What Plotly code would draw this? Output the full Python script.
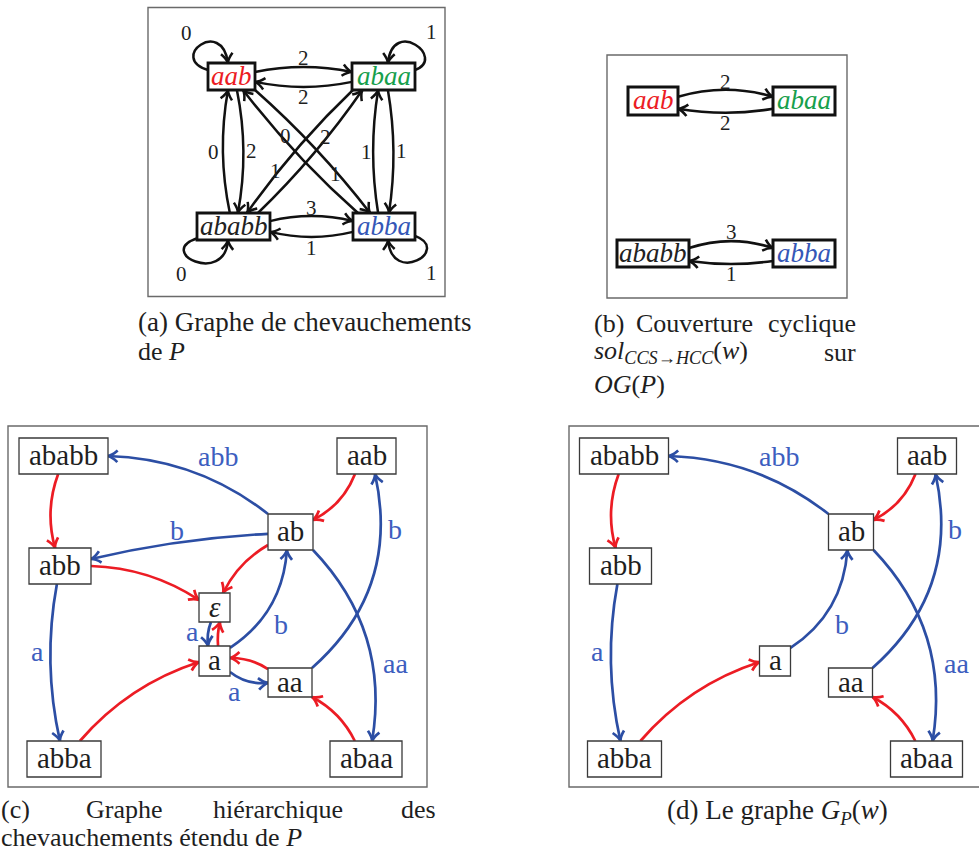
import math
import plotly.graph_objects as go

# ------------------------------------------------------------------ data
# (a) overlap graph OG(P): nodes and weighted arcs (weight = overlap label)
og_words = ["aab", "abaa", "ababb", "abba"]
og_arcs = [("aab", "abaa", "2"), ("abaa", "aab", "2"),
           ("ababb", "abba", "3"), ("abba", "ababb", "1"),
           ("ababb", "aab", "0"), ("aab", "ababb", "2"),
           ("abba", "abaa", "1"), ("abaa", "abba", "1"),
           ("abba", "aab", "0"), ("aab", "abba", "1"),
           ("abaa", "ababb", "1"), ("ababb", "abaa", "2")]
og_loops = [("aab", "0"), ("abaa", "1"), ("ababb", "0"), ("abba", "1")]
# (b) cyclic cover sol_{CCS->HCC}(w)
cover_arcs = [("aab", "abaa", "2"), ("abaa", "aab", "2"),
              ("ababb", "abba", "3"), ("abba", "ababb", "1")]
# (c) extended hierarchical overlap graph: (src, dst, label, kind)
hog_nodes = ["ababb", "aab", "ab", "abb", "ε", "a", "aa", "abba", "abaa"]
hog_arcs = [("ab", "ababb", "abb", "ext"), ("ababb", "abb", "", "link"),
            ("aab", "ab", "", "link"), ("ab", "abb", "b", "ext"),
            ("ab", "ε", "", "link"), ("abb", "ε", "", "link"),
            ("ε", "a", "a", "ext"), ("a", "ε", "", "link"),
            ("a", "ab", "b", "ext"), ("aa", "a", "", "link"),
            ("a", "aa", "a", "ext"), ("aa", "aab", "b", "ext"),
            ("ab", "abaa", "aa", "ext"), ("abb", "abba", "a", "ext"),
            ("abba", "a", "", "link"), ("abaa", "aa", "", "link")]
# (d) graph G_P(w)
gp_nodes = ["ababb", "aab", "ab", "abb", "a", "aa", "abba", "abaa"]
gp_arcs = [("ab", "ababb", "abb", "ext"), ("ababb", "abb", "", "link"),
           ("aab", "ab", "", "link"), ("a", "ab", "b", "ext"),
           ("aa", "aab", "b", "ext"), ("ab", "abaa", "aa", "ext"),
           ("abb", "abba", "a", "ext"), ("abba", "a", "", "link"),
           ("abaa", "aa", "", "link")]

# ------------------------------------------------------------------ layout / style
FONT = "Liberation Serif"
RED = "#ec1c24"
BLUE = "#2c4ea4"
LBLUE = "#3d5ebf"
INK = "#1e1e1e"
WORD_COLOR = {"aab": "#ec1c24", "abaa": "#17a04c", "ababb": "#222222", "abba": "#3557b7"}

# boxes: cx, cy, w, h  (page pixels)
BOX_A = {"aab": (231.5, 76.5, 47, 27), "abaa": (383.5, 76.5, 63, 27),
         "ababb": (233.5, 226.5, 73, 27), "abba": (384, 226.5, 62, 27)}
BOX_B = {"aab": (653, 101, 50, 28), "abaa": (804, 101, 62, 28),
         "ababb": (653, 253.5, 72, 27), "abba": (804, 253.5, 62, 27)}
BOX_C = {"ababb": (63.5, 456, 89, 36), "aab": (366.5, 456, 59, 36),
         "ab": (290.5, 532, 45, 36), "abb": (60, 566, 62, 36),
         "ε": (214.5, 607.5, 31, 29), "a": (214.5, 661, 31, 30),
         "aa": (290, 682.5, 44, 29), "abba": (64, 759, 74, 36),
         "abaa": (366, 759, 72, 36)}
DX_D = 560.5

# arc geometry: start anchor, end anchor (box fractions), bend, label t, label offset
GEO_A = {("aab", "abaa"): ((1, -0.33), (-1, -0.33), 10, 0.5, 9),
         ("abaa", "aab"): ((-1, 0.4), (1, 0.4), 10, 0.5, 10),
         ("ababb", "abba"): ((1, -0.4), (-1, -0.4), 10, 0.5, 8),
         ("abba", "ababb"): ((-1, 0.4), (1, 0.4), 10, 0.5, 11),
         ("ababb", "aab"): ((-0.1, -1), (-0.15, 1), 12, 0.5, 9),
         ("aab", "ababb"): ((0.23, 1), (0.12, -1), 12, 0.5, 8),
         ("abba", "abaa"): ((-0.19, -1), (-0.17, 1), 10, 0.5, 7),
         ("abaa", "abba"): ((0.14, 1), (0.16, -1), 10, 0.5, 8),
         ("aab", "abba"): ((1, 1), (-0.45, -1), 8, 0.69, -2),
         ("abba", "aab"): ((-0.84, -1), (0.49, 1), 8, 0.63, -3),
         ("abaa", "ababb"): ((-0.97, 1), (0.37, -1), -8, 0.69, -2),
         ("ababb", "abaa"): ((0.67, -1), (-0.67, 1), -8, 0.63, 2)}
LOOP_A = {"aab": ((-1, -0.48), (-0.15, -1), (-40, -12), (-6, -46), (-14, -12)),
          "abaa": ((1, -0.48), (0.14, -1), (32, -12), (5, -46), (16, -13)),
          "ababb": ((-0.97, 0.85), (-0.15, 1), (-44, 14), (-3, 46), (-14, 13)),
          "abba": ((1, 0.7), (0.13, 1), (37, 14), (4, 46), (15, 13))}
GEO_B = {("aab", "abaa"): ((1, -0.3), (-1, -0.3), 14, 0.5, 8),
         ("abaa", "aab"): ((-1, 0.55), (1, 0.55), 8, 0.5, 10),
         ("ababb", "abba"): ((1, -0.4), (-1, -0.4), 14, 0.5, 9),
         ("abba", "ababb"): ((-1, 0.55), (1, 0.55), 6, 0.5, 10)}
GEO_C = {("ab", "ababb"): ((-1, -1), (1, 0), -28, 0.4, -24),
         ("ababb", "abb"): ((-0.12, 1), (-0.16, -1), -12, 0.5, 0),
         ("aab", "ab"): ((-0.39, 1), (1, -0.67), 12, 0.5, 0),
         ("ab", "abb"): ((-1, 0.1), (1, -0.39), -8, 0.5, -12),
         ("ab", "ε"): ((-1, 0.72), (0.55, -1), -10, 0.5, 0),
         ("abb", "ε"): ((1, 0), (-1, -0.52), 16, 0.5, 0),
         ("ε", "a"): ((-0.23, 1), (-0.42, -1), -3, 0.5, -16),
         ("a", "ε"): ((0.23, -1), (0.35, 1), 2, 0.5, 0),
         ("a", "ab"): ((1, -0.87), (-0.16, 1), -28, 0.42, -19),
         ("aa", "a"): ((-1, -0.93), (1, -0.2), -6, 0.5, 0),
         ("a", "aa"): ((1, 0.73), (-1, 0.03), -8, 0.3, -14),
         ("aa", "aab"): ((1, -1), (0.29, 1), -60, 0.75, -14),
         ("ab", "abaa"): ((1, 1), (0.17, -1), 50, 0.65, 23),
         ("abb", "abba"): ((-0.1, 1), (-0.11, -1), -16, 0.43, -13),
         ("abba", "a"): ((0.43, -1), (-1, 0.07), 20, 0.5, 0),
         ("abaa", "aa"): ((-0.31, -1), (1, 1), -10, 0.5, 0)}

shapes, annots = [], []


def P(x, y):
    return f"{x:.2f},{y:.2f}"


def anchor(box, f, dx=0.0):
    cx, cy, w, h = box
    return (cx + dx + f[0] * w / 2, cy + f[1] * h / 2)


def arrowhead(tip, u, color, lw, L=9.5, Wd=5.8):
    ux, uy = u
    n = math.hypot(ux, uy)
    ux, uy = ux / n, uy / n
    vx, vy = -uy, ux
    b1 = (tip[0] - L * ux + Wd * vx, tip[1] - L * uy + Wd * vy)
    b2 = (tip[0] - L * ux - Wd * vx, tip[1] - L * uy - Wd * vy)
    c1 = (tip[0] - 0.45 * L * ux + 0.15 * Wd * vx, tip[1] - 0.45 * L * uy + 0.15 * Wd * vy)
    c2 = (tip[0] - 0.45 * L * ux - 0.15 * Wd * vx, tip[1] - 0.45 * L * uy - 0.15 * Wd * vy)
    path = f"M{P(*b1)} Q{P(*c1)} {P(*tip)} Q{P(*c2)} {P(*b2)}"
    shapes.append(dict(type="path", path=path, xref="x", yref="y",
                       line=dict(color=color, width=lw)))


def quad_arc(p0, p1, bend, color, lw, label="", lt=0.5, ld=0.0, lfont=None):
    dx, dy = p1[0] - p0[0], p1[1] - p0[1]
    ln = math.hypot(dx, dy)
    nx, ny = dy / ln, -dx / ln
    c = ((p0[0] + p1[0]) / 2 + bend * nx, (p0[1] + p1[1]) / 2 + bend * ny)
    shapes.append(dict(type="path", path=f"M{P(*p0)} Q{P(*c)} {P(*p1)}",
                       xref="x", yref="y", line=dict(color=color, width=lw)))
    arrowhead(p1, (p1[0] - c[0], p1[1] - c[1]), color, lw)
    if label:
        t = lt
        bx = (1 - t) ** 2 * p0[0] + 2 * (1 - t) * t * c[0] + t * t * p1[0]
        by = (1 - t) ** 2 * p0[1] + 2 * (1 - t) * t * c[1] + t * t * p1[1]
        tx = 2 * (1 - t) * (c[0] - p0[0]) + 2 * t * (p1[0] - c[0])
        ty = 2 * (1 - t) * (c[1] - p0[1]) + 2 * t * (p1[1] - c[1])
        tn = math.hypot(tx, ty)
        lx, ly = bx + ld * ty / tn, by - ld * tx / tn
        annots.append(dict(x=lx, y=ly, text=label, showarrow=False, xref="x", yref="y",
                           font=lfont, xanchor="center", yanchor="middle", borderpad=0))


def loop(box, geo, label, color, lw, lfont):
    s, e, o1, o2, lo = geo
    p0 = anchor(box, s)
    p3 = anchor(box, e)
    c1 = (p0[0] + o1[0], p0[1] + o1[1])
    c2 = (p3[0] + o2[0], p3[1] + o2[1])
    shapes.append(dict(type="path", path=f"M{P(*p0)} C{P(*c1)} {P(*c2)} {P(*p3)}",
                       xref="x", yref="y", line=dict(color=color, width=lw)))
    arrowhead(p3, (p3[0] - c2[0], p3[1] - c2[1]), color, lw)
    mx = 0.125 * p0[0] + 0.375 * c1[0] + 0.375 * c2[0] + 0.125 * p3[0]
    my = 0.125 * p0[1] + 0.375 * c1[1] + 0.375 * c2[1] + 0.125 * p3[1]
    annots.append(dict(x=mx + lo[0], y=my + lo[1], text=label, showarrow=False,
                       xref="x", yref="y", font=lfont, borderpad=0))


def node_box(box, text, lw, lcolor, font, dx=0.0, yshift=0):
    cx, cy, w, h = box
    cx += dx
    shapes.append(dict(type="rect", x0=cx - w / 2, x1=cx + w / 2, y0=cy - h / 2, y1=cy + h / 2,
                       xref="x", yref="y", fillcolor="white", line=dict(color=lcolor, width=lw)))
    annots.append(dict(x=cx, y=cy, text=text, showarrow=False, xref="x", yref="y",
                       font=font, xanchor="center", yanchor="middle", yshift=yshift,
                       borderpad=0))


def frame(x0, y0, x1, y1):
    shapes.append(dict(type="rect", x0=x0, y0=y0, x1=x1, y1=y1, xref="x", yref="y",
                       line=dict(color="#6a6a6a", width=1.4), fillcolor="rgba(0,0,0,0)"))


num_font = dict(family=FONT, size=21, color=INK)
edge_font = dict(family=FONT, size=28, color=LBLUE)
hnode_font = dict(family=FONT, size=29, color=INK)

# ---------------- panel (a)
frame(148, 7.5, 445, 296.5)
for s, d, w in og_arcs:
    g = GEO_A[(s, d)]
    quad_arc(anchor(BOX_A[s], g[0]), anchor(BOX_A[d], g[1]), g[2], "#111111", 2.5,
             label=w, lt=g[3], ld=g[4], lfont=num_font)
for nd, w in og_loops:
    loop(BOX_A[nd], LOOP_A[nd], w, "#111111", 2.5, num_font)
for wd in og_words:
    node_box(BOX_A[wd], f"<i>{wd}</i>", 2.8, "#111111",
             dict(family=FONT, size=27, color=WORD_COLOR[wd]), yshift=1)

# ---------------- panel (b)
frame(607, 55, 847, 298)
for s, d, w in cover_arcs:
    g = GEO_B[(s, d)]
    quad_arc(anchor(BOX_B[s], g[0]), anchor(BOX_B[d], g[1]), g[2], "#111111", 2.6,
             label=w, lt=g[3], ld=g[4], lfont=num_font)
for wd in og_words:
    node_box(BOX_B[wd], f"<i>{wd}</i>", 3.0, "#111111",
             dict(family=FONT, size=27, color=WORD_COLOR[wd]), yshift=1)


# ---------------- panels (c) and (d)
def hier_panel(nodes, arcs, dx):
    for s, d, lab, kind in arcs:
        g = GEO_C[(s, d)]
        col = BLUE if kind == "ext" else RED
        quad_arc(anchor(BOX_C[s], g[0], dx), anchor(BOX_C[d], g[1], dx), g[2], col, 2.7,
                 label=lab, lt=g[3], ld=g[4], lfont=edge_font)
    for nd in nodes:
        txt = "<i>ε</i>" if nd == "ε" else nd
        node_box(BOX_C[nd], txt, 1.3, "#3a3a3a", hnode_font, dx=dx, yshift=1)


frame(8, 426, 427, 787)
hier_panel(hog_nodes, hog_arcs, 0.0)
frame(569, 426, 988, 787)
hier_panel(gp_nodes, gp_arcs, DX_D)


# ---------------- captions
def text(x, y, s, xa="left", size=26):
    annots.append(dict(x=x, y=y, text=s, showarrow=False, xref="x", yref="y",
                       font=dict(family=FONT, size=size, color=INK),
                       xanchor=xa, yanchor="middle", borderpad=0))


text(137, 322, "(a) Graphe de chevauchements", size=27)
text(137, 351, "de <i>P</i>")
text(593, 323, "(b)")
text(694, 323, "Couverture", "center")
text(857, 323, "cyclique", "right")
text(593, 352, "<i>sol</i><sub><i>CCS</i>→<i>HCC</i></sub>(<i>w</i>)")
text(857, 352, "sur", "right")
text(593, 384, "<i>OG</i>(<i>P</i>)")
text(0, 809, "(c)")
text(124, 809, "Graphe", "center")
text(278, 809, "hiérarchique", "center")
text(437, 809, "des", "right")
text(0, 837, "chevauchements étendu de <i>P</i>")
text(777, 812, "(d) Le graphe <i>G</i><sub><i>P</i></sub>(<i>w</i>)", "center", size=27)

fig = go.Figure()
fig.add_trace(go.Scatter(x=[0], y=[0], mode="markers", marker=dict(opacity=0),
                         hoverinfo="skip", showlegend=False))
fig.update_layout(width=979, height=852, margin=dict(l=0, r=0, t=0, b=0),
                  paper_bgcolor="white", plot_bgcolor="white", showlegend=False,
                  xaxis=dict(range=[0, 979], visible=False, fixedrange=True),
                  yaxis=dict(range=[852, 0], visible=False, fixedrange=True),
                  shapes=shapes, annotations=annots)
fig.write_html("out.html", config={"displayModeBar": False},
               post_script="document.body.style.margin='0';")
